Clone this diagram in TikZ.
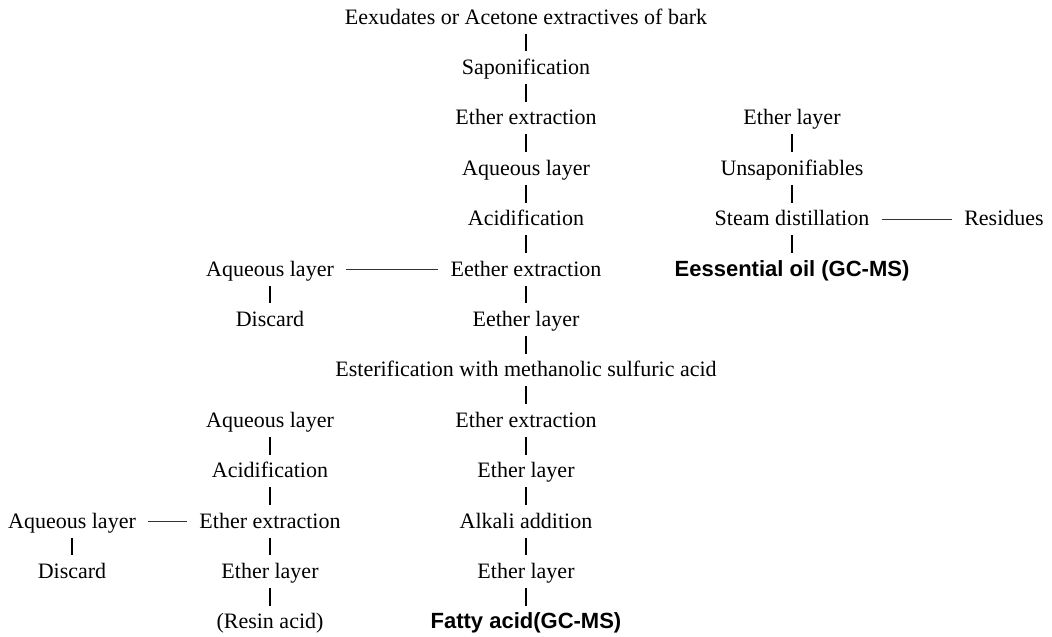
\documentclass[tikz,border=0pt]{standalone}
\usepackage{fontspec}
\setmainfont{Liberation Serif}
\newfontfamily\resultfont{Liberation Sans}
\tikzstyle{stage} = [text centered, inner sep=3pt, text height=12pt, text depth=2pt, font=\fontsize{16.5}{19}\selectfont]
\tikzstyle{result} = [stage, font=\fontsize{16.5}{19}\selectfont\resultfont\bfseries]
\tikzstyle{line} = [draw, line width=0.9pt, shorten <=2pt, shorten >=2pt]
\tikzstyle{branch} = [draw, line width=0.6pt, black!80, shorten <=6pt, shorten >=6pt]

\begin{document}
\begin{tikzpicture}[node distance=37.8pt, auto]
        \useasboundingbox (0,0) rectangle (789pt,-477pt);
        % main column
        \node[stage] (source) at (394.5pt,-13pt) {Eexudates or Acetone extractives of bark};
        \node[stage, below of=source] (sapon) {Saponification};
        \node[stage, below of=sapon] (etherext) {Ether extraction};
        \node[stage, below of=etherext] (aqueous) {Aqueous layer};
        \node[stage, below of=aqueous] (acidif) {Acidification};
        \node[stage, below of=acidif] (eetherext) {Eether extraction};
        \node[stage, below of=eetherext] (eetherlay) {Eether layer};
        \node[stage, below of=eetherlay] (ester) {Esterification with methanolic sulfuric acid};
        \node[stage, below of=ester] (faext) {Ether extraction};
        \node[stage, below of=faext] (falay) {Ether layer};
        \node[stage, below of=falay] (alkali) {Alkali addition};
        \node[stage, below of=alkali] (falayb) {Ether layer};
        \node[result, below of=falayb] (fatty) {Fatty acid(GC-MS)};
        % unsaponifiables
        \node[stage, node distance=199.5pt, right of=etherext] (unslay) {Ether layer};
        \node[stage, below of=unslay] (unsap) {Unsaponifiables};
        \node[stage, below of=unsap] (steam) {Steam distillation};
        \node[stage, node distance=159pt, right of=steam] (residue) {Residues};
        \node[result, below of=steam] (oil) {Eessential oil (GC-MS)};
        % side branches
        \node[stage, node distance=192pt, left of=eetherext] (aqside) {Aqueous layer};
        \node[stage, below of=aqside] (discard) {Discard};
        \node[stage, node distance=192pt, left of=faext] (resaq) {Aqueous layer};
        \node[stage, below of=resaq] (resacid) {Acidification};
        \node[stage, below of=resacid] (resext) {Ether extraction};
        \node[stage, below of=resext] (reslay) {Ether layer};
        \node[stage, below of=reslay] (resin) {(Resin acid)};
        \node[stage, node distance=148.5pt, left of=resext] (resaqb) {Aqueous layer};
        \node[stage, below of=resaqb] (discardb) {Discard};
        \path[line] (source) -- (sapon);
        \path[line] (sapon) -- (etherext);
        \path[line] (etherext) -- (aqueous);
        \path[line] (aqueous) -- (acidif);
        \path[line] (acidif) -- (eetherext);
        \path[line] (eetherext) -- (eetherlay);
        \path[line] (eetherlay) -- (ester);
        \path[line] (ester) -- (faext);
        \path[line] (faext) -- (falay);
        \path[line] (falay) -- (alkali);
        \path[line] (alkali) -- (falayb);
        \path[line] (falayb) -- (fatty);
        \path[line] (unslay) -- (unsap);
        \path[line] (unsap) -- (steam);
        \path[line] (steam) -- (oil);
        \path[line] (aqside) -- (discard);
        \path[line] (resaq) -- (resacid);
        \path[line] (resacid) -- (resext);
        \path[line] (resext) -- (reslay);
        \path[line] (reslay) -- (resin);
        \path[line] (resaqb) -- (discardb);
        \path[branch] (aqside) -- (eetherext);
        \path[branch] (steam) -- (residue);
        \path[branch] (resaqb) -- (resext);
    \end{tikzpicture}
\end{document}
